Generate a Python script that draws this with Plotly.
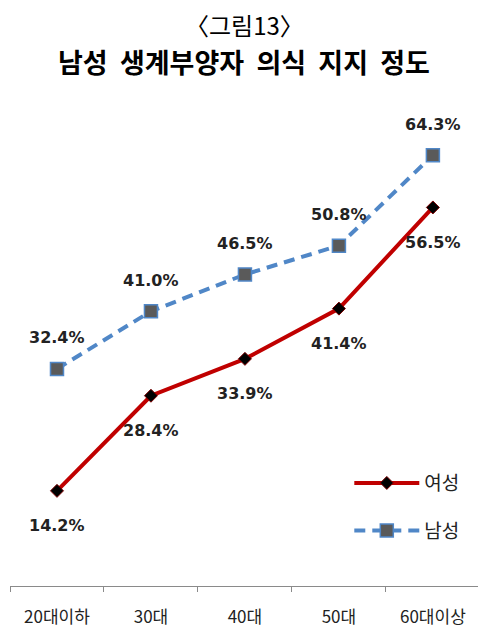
import plotly.graph_objects as go

# Age groups and support rates (%) for the "male breadwinner" attitude
age_groups = ["20대이하", "30대", "40대", "50대", "60대이상"]
female_pct = [14.2, 28.4, 33.9, 41.4, 56.5]
male_pct = [32.4, 41.0, 46.5, 50.8, 64.3]
series_names = ["여성", "남성"]

title_line1 = "〈그림13〉"
title_line2 = "남성 \u00a0생계부양자 \u00a0의식 \u00a0지지 \u00a0정도"

LABEL_FONT = dict(family="DejaVu Sans", size=16, color="#222222")
KR_FONT = "Noto Sans CJK KR"

fig = go.Figure()

fig.add_trace(go.Scatter(
    x=age_groups, y=female_pct, name=series_names[0],
    mode="lines+markers", legendgroup="f",
    line=dict(color="#C00000", width=4),
    marker=dict(symbol="diamond", size=10, color="#000000",
                line=dict(color="#7a0000", width=1)),
))
fig.add_trace(go.Scatter(
    x=age_groups, y=male_pct, name=series_names[1],
    mode="lines+markers", legendgroup="m",
    line=dict(color="#5087C7", width=4, dash="11px,7px"),
    marker=dict(symbol="square", size=13, color="#5A5A5A",
                line=dict(color="#5087C7", width=1.5)),
))

# value labels: male above the markers, female below
annotations = []
for cat, v in zip(age_groups, male_pct):
    annotations.append(dict(x=cat, y=v, text=f"<b>{v:.1f}%</b>", showarrow=False,
                            yshift=31, font=LABEL_FONT))
for cat, v in zip(age_groups, female_pct):
    annotations.append(dict(x=cat, y=v, text=f"<b>{v:.1f}%</b>", showarrow=False,
                            yshift=-35, font=LABEL_FONT))

H, W = 628, 478
top_m, bot_m = 117, 42
plot_h = H - top_m - bot_m


def paper_y(px):
    """Pixel row (from the top of the page) to paper coordinate."""
    return (H - bot_m - px) / plot_h


annotations.append(dict(x=0.5, y=paper_y(24), xref="paper", yref="paper", text=title_line1,
                        showarrow=False, yanchor="middle", xanchor="center",
                        font=dict(family=KR_FONT, size=24, color="#000000")))
annotations.append(dict(x=0.5, y=paper_y(61), xref="paper", yref="paper",
                        text=f"<b>{title_line2}</b>",
                        showarrow=False, yanchor="middle", xanchor="center",
                        font=dict(family=KR_FONT, size=27, color="#000000")))

fig.update_layout(
    width=W, height=H,
    margin=dict(l=10, r=0, t=top_m, b=bot_m),
    paper_bgcolor="white", plot_bgcolor="white",
    showlegend=True,
    legend=dict(x=0.725, y=0.26, xanchor="left", yanchor="top",
                traceorder="grouped", tracegroupgap=20, itemwidth=65,
                font=dict(family=KR_FONT, size=19, color="#222222"),
                bgcolor="rgba(0,0,0,0)"),
    annotations=annotations,
    xaxis=dict(range=[-0.5, 4.48], showline=True, linecolor="#8a8a8a", linewidth=1,
               ticks="outside", tickson="boundaries", ticklen=5, tickcolor="#8a8a8a",
               showgrid=False, zeroline=False, ticklabelstandoff=16,
               tickfont=dict(family=KR_FONT, size=17, color="#222222")),
    yaxis=dict(range=[0, 70], visible=False, showgrid=False, zeroline=False),
)

fig.write_html("out.html")
